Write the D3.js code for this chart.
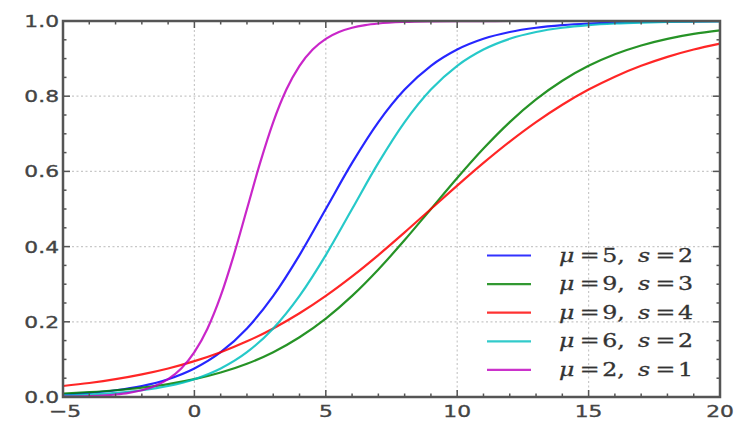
<!DOCTYPE html>
<html><head><meta charset="utf-8">
<script src="https://cdn.jsdelivr.net/npm/d3@7/dist/d3.min.js"></script>
<style>body{margin:0;background:#fff}svg{display:block}</style>
</head><body>
<svg id="c" width="750" height="425"></svg>
<script>
// sample x positions (shared by four series)
const xs = [-5,-4,-3,-2,-1,0,1,2,3,4,5,6,7,8,9,10,11,12,13,14,15,16,17,18,19,20];
const blueVals  = [0.0067,0.0110,0.0180,0.0293,0.0474,0.0759,0.1192,0.1824,0.2689,0.3775,0.5,0.6225,0.7311,0.8176,0.8808,0.9241,0.9526,0.9707,0.9820,0.9890,0.9933,0.9959,0.9975,0.9985,0.9991,0.9995];
const greenVals = [0.0093,0.0130,0.0180,0.0249,0.0344,0.0474,0.0650,0.0884,0.1192,0.1589,0.2086,0.2689,0.3392,0.4174,0.5,0.5826,0.6608,0.7311,0.7914,0.8411,0.8808,0.9116,0.9350,0.9526,0.9656,0.9751];
const redVals   = [0.0293,0.0373,0.0474,0.0601,0.0759,0.0954,0.1192,0.1480,0.1824,0.2227,0.2689,0.3208,0.3775,0.4378,0.5,0.5622,0.6225,0.6792,0.7311,0.7773,0.8176,0.8520,0.8808,0.9047,0.9241,0.9399];
const cyanVals  = [0.0041,0.0067,0.0110,0.0180,0.0293,0.0474,0.0759,0.1192,0.1824,0.2689,0.3775,0.5,0.6225,0.7311,0.8176,0.8808,0.9241,0.9526,0.9707,0.9820,0.9890,0.9933,0.9959,0.9975,0.9985,0.9991];
// magenta series has its own, denser sample positions
const magX    = [-5,-4,-3,-2.5,-2,-1.5,-1,-0.5,0,0.5,1,1.5,2,2.5,3,3.5,4,4.5,5,5.5,6,6.5,7,8,9,10,12,15,20];
const magVals = [0.0009,0.0025,0.0067,0.0110,0.0180,0.0293,0.0474,0.0759,0.1192,0.1824,0.2689,0.3775,0.5,0.6225,0.7311,0.8176,0.8808,0.9241,0.9526,0.9707,0.9820,0.9890,0.9933,0.9975,0.9991,0.9997,0.99995,1.0,1.0];

const seriesLabels = [["5","2"],["9","3"],["9","4"],["6","2"],["2","1"]];
const seriesColors = ["#0000ff","#008000","#ff0000","#00bfbf","#bf00bf"];
const xTicks = [-5,0,5,10,15,20];
const yTicks = [0,0.2,0.4,0.6,0.8,1.0];

const series = [
  {x:xs, y:blueVals},{x:xs, y:greenVals},{x:xs, y:redVals},{x:xs, y:cyanVals},{x:magX, y:magVals}
];

const L=63, R=720, T=21, B=397;
const svg = d3.select("#c");
const x = d3.scaleLinear().domain([-5,20]).range([L,R]);
const y = d3.scaleLinear().domain([0,1]).range([B,T]);

// grid
const grid = svg.append("g").attr("stroke","#c8c8c8").attr("stroke-width",1.2).attr("stroke-dasharray","2,2.5");
xTicks.slice(1,-1).forEach(t=>grid.append("line").attr("x1",x(t)).attr("x2",x(t)).attr("y1",T).attr("y2",B));
yTicks.slice(1,-1).forEach(t=>grid.append("line").attr("y1",y(t)).attr("y2",y(t)).attr("x1",L).attr("x2",R));

// curves
const line = d3.line().x(d=>x(d[0])).y(d=>y(d[1])).curve(d3.curveMonotoneX);
series.forEach((s,i)=>{
  svg.append("path").attr("d",line(s.x.map((v,j)=>[v,s.y[j]])))
    .attr("fill","none").attr("stroke",seriesColors[i]).attr("stroke-width",2.2).attr("opacity",0.85);
});

// axes with inward ticks
const axCol="#555";
const xMinor = d3.range(-5,20.01,1), yMinor = d3.range(0,1.001,0.05);
const tk = svg.append("g").attr("stroke",axCol).attr("stroke-width",1.5);
xMinor.forEach(t=>{
  const len = Math.abs(t%5)<1e-9?7:3.5;
  tk.append("line").attr("x1",x(t)).attr("x2",x(t)).attr("y1",B).attr("y2",B-len);
  tk.append("line").attr("x1",x(t)).attr("x2",x(t)).attr("y1",T).attr("y2",T+len);
});
yMinor.forEach(t=>{
  const major = yTicks.some(v=>Math.abs(v-t)<1e-9);
  const len = major?7:3.5;
  tk.append("line").attr("y1",y(t)).attr("y2",y(t)).attr("x1",L).attr("x2",L+len);
  tk.append("line").attr("y1",y(t)).attr("y2",y(t)).attr("x1",R).attr("x2",R-len);
});
svg.append("rect").attr("x",L).attr("y",T).attr("width",R-L).attr("height",B-T)
  .attr("fill","none").attr("stroke",axCol).attr("stroke-width",2.5);

// tick labels
const fmtY = d3.format(".1f");
yTicks.forEach(t=>{
  svg.append("text").attr("transform",`translate(${L-4},${y(t)+6}) scale(1.32,1)`)
    .attr("text-anchor","end").attr("font-family","DejaVu Sans").attr("font-size",16.5)
    .attr("fill","#444").attr("stroke","#444").attr("stroke-width",0.35).text(fmtY(t));
});
xTicks.forEach(t=>{
  svg.append("text").attr("transform",`translate(${x(t)+(t<0?2:0)},${B+20}) scale(1.32,1)`)
    .attr("text-anchor","middle").attr("font-family","DejaVu Sans").attr("font-size",16.5)
    .attr("fill","#444").attr("stroke","#444").attr("stroke-width",0.35).text(t<0?"\u2212"+Math.abs(t):String(t));
});

// legend
const lg = svg.append("g");
seriesLabels.forEach((lab,i)=>{
  const yy = 255.5 + i*28.6;
  lg.append("line").attr("x1",487).attr("x2",531).attr("y1",yy).attr("y2",yy)
    .attr("stroke",seriesColors[i]).attr("stroke-width",2.2).attr("opacity",0.8);
  const t = lg.append("text").attr("x",559).attr("y",yy+6).attr("font-family","DejaVu Serif")
    .attr("font-size",18).attr("fill","#333").attr("stroke","#333").attr("stroke-width",0.3)
    .attr("textLength",134).attr("lengthAdjust","spacingAndGlyphs");
  t.append("tspan").attr("font-style","italic").text("\u03bc");
  t.append("tspan").attr("dx",4).text("=");
  t.append("tspan").attr("dx",2).text(lab[0]+",");
  t.append("tspan").attr("dx",10).attr("font-style","italic").text("s");
  t.append("tspan").attr("dx",4).text("=");
  t.append("tspan").attr("dx",2).text(lab[1]);
});
</script>
</body></html>
